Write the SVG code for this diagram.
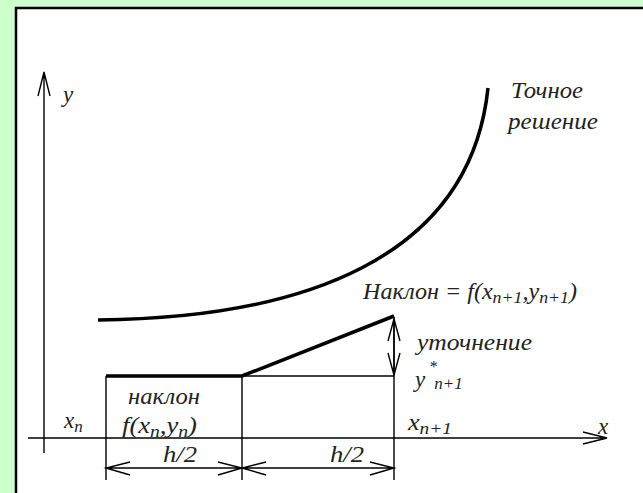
<svg xmlns="http://www.w3.org/2000/svg" width="643" height="493" viewBox="0 0 643 493">
<style>
.t{font-family:"Liberation Serif","Times New Roman","DejaVu Serif",serif;font-style:italic;font-size:23px;fill:#222}
.s{font-size:17px}
.ln{stroke:#000;stroke-width:1.4;fill:none}
.thick{stroke:#000;stroke-width:3.5;fill:none}
</style>
<rect x="0" y="0" width="643" height="493" fill="#ccffcc"/>
<rect x="16" y="8" width="640" height="500" fill="#fff" stroke="#000" stroke-width="2.5"/>
<g id="connectors">
<path class="ln" d="M44,453 V72 M38,96 L44,72 L50,96"/>
<path class="ln" d="M28,438 H607 M583,432 L607,438 L583,444"/>
<path class="ln" d="M106,376 V480 M242,376 V480 M394,317 V480"/>
<path class="ln" d="M242,376 H394"/>
<path class="ln" d="M394,319 V375 M388,341 L394,319 L400,341 M388,353 L394,375 L400,353"/>
<path class="ln" d="M106,468 H394 M130,462 L106,468 L130,475 M218,462 L242,468 L218,475 M266,462 L242,468 L266,475 M370,462 L394,468 L370,475"/>
</g>
<g id="curve"><path class="thick" d="M98,320 C300,318 470,260 488,88"/></g>
<g id="step"><path class="thick" d="M106,376 H242 L394,316"/></g>
<g id="labels">
<text class="t" x="63" y="102">y</text>
<text class="t" x="598" y="434">x</text>
<text class="t" x="511" y="98" textLength="72" lengthAdjust="spacingAndGlyphs">Точное</text>
<text class="t" x="508" y="129" textLength="90" lengthAdjust="spacingAndGlyphs">решение</text>
<text class="t" x="363" y="299" textLength="214" lengthAdjust="spacingAndGlyphs">Наклон = f(x<tspan class="s" dy="4">n+1</tspan><tspan dy="-4">,y</tspan><tspan class="s" dy="4">n+1</tspan><tspan dy="-4">)</tspan></text>
<text class="t" x="417" y="350" textLength="115" lengthAdjust="spacingAndGlyphs">уточнение</text>
<text class="t" x="429" y="372" style="font-size:16px">*</text>
<text class="t" x="415" y="387">y<tspan class="s" dx="9" dy="2">n+1</tspan></text>
<text class="t" x="128" y="404" textLength="72" lengthAdjust="spacingAndGlyphs">наклон</text>
<text class="t" x="122" y="433" textLength="75" lengthAdjust="spacingAndGlyphs">f(x<tspan class="s" dy="4">n</tspan><tspan dy="-4">,y</tspan><tspan class="s" dy="4">n</tspan><tspan dy="-4">)</tspan></text>
<text class="t" x="64" y="428">x<tspan class="s" dy="4">n</tspan></text>
<text class="t" x="408" y="430" textLength="44" lengthAdjust="spacingAndGlyphs">x<tspan class="s" dy="4">n+1</tspan></text>
<text class="t" x="163" y="462" textLength="34" lengthAdjust="spacingAndGlyphs">h/2</text>
<text class="t" x="330" y="462" textLength="34" lengthAdjust="spacingAndGlyphs">h/2</text>
</g>
</svg>
